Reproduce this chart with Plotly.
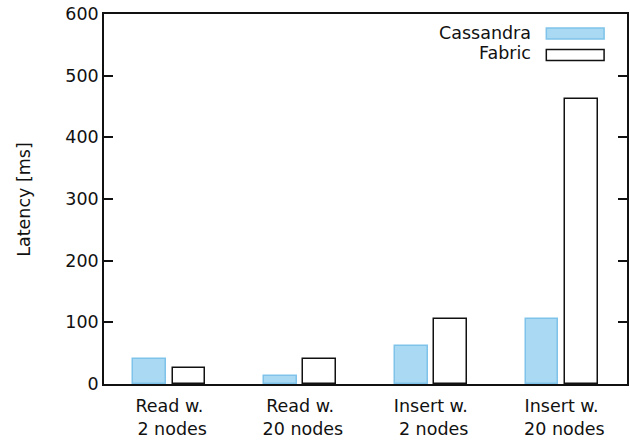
import plotly.graph_objects as go

categories = ["Read w.<br> 2 nodes", "Read w.<br> 20 nodes", "Insert w.<br> 2 nodes", "Insert w.<br> 20 nodes"]
cassandra = [40, 13, 62, 105]
fabric = [26, 40, 105, 462]
series_names = ["Cassandra", "Fabric"]
y_ticks = [0, 100, 200, 300, 400, 500, 600]

cass_fill = "#a9d9f3"
cass_line = "#7fc3ea"
font_family = "DejaVu Sans"
fsize = 17.5

# plot area in pixels (for placing the hand-drawn legend and y title)
L, R, T, B = 104, 629, 14, 384
W, H = R - L, B - T

def px_x(x):
    return (x - L) / W

def px_y(y):
    return (B - y) / H

fig = go.Figure()
fig.add_trace(go.Bar(x=categories, y=cassandra, name=series_names[0], width=0.25, offset=-0.275,
                     marker=dict(color=cass_fill, line=dict(color=cass_line, width=1.5)), showlegend=False))
fig.add_trace(go.Bar(x=categories, y=fabric, name=series_names[1], width=0.25, offset=0.025,
                     marker=dict(color="white", line=dict(color="#111", width=1.5)), showlegend=False))

# legend drawn manually (text left of sample, gnuplot style)
legend_items = [(series_names[0], cass_fill, cass_line, 33.5, 32.5), (series_names[1], "white", "#111", 55, 52.5)]
for name, fill, line, ybox, ytxt in legend_items:
    fig.add_shape(type="rect", xref="paper", yref="paper",
                  x0=px_x(548), x1=px_x(606),
                  y0=px_y(ybox - 5.5), y1=px_y(ybox + 5.5),
                  fillcolor=fill, line=dict(color=line, width=1.5))
    fig.add_annotation(xref="paper", yref="paper", x=px_x(535), y=px_y(ytxt),
                       text=name, showarrow=False, xanchor="right", yanchor="middle",
                       font=dict(family=font_family, size=fsize, color="#111"))

# y-axis title
fig.add_annotation(xref="paper", yref="paper", x=px_x(23.5), y=0.5, text="Latency [ms]",
                   textangle=-90, showarrow=False, xanchor="center", yanchor="middle",
                   font=dict(family=font_family, size=fsize, color="#111"))

fig.update_layout(
    width=630, height=440,
    margin=dict(l=L, r=630 - R, t=T, b=440 - B),
    paper_bgcolor="white", plot_bgcolor="white",
    font=dict(family=font_family, size=fsize, color="#111"),
    bargap=0,
)
fig.update_xaxes(range=[-0.5, 3.5], showline=True, linecolor="#111", linewidth=1.5, mirror=True,
                 ticks="", showgrid=False, zeroline=False, tickfont=dict(size=fsize),
                 ticklabelstandoff=5)
fig.update_yaxes(range=[0, 600], tickvals=y_ticks, showline=True, linecolor="#111", linewidth=1.5,
                 mirror="ticks", ticks="inside", ticklen=9, tickcolor="#111", tickwidth=1.5,
                 showgrid=False, zeroline=False, tickfont=dict(size=fsize))

fig.write_html("out.html", config={"displayModeBar": False},
               post_script="document.body.style.margin='0';document.body.style.overflow='hidden';")
